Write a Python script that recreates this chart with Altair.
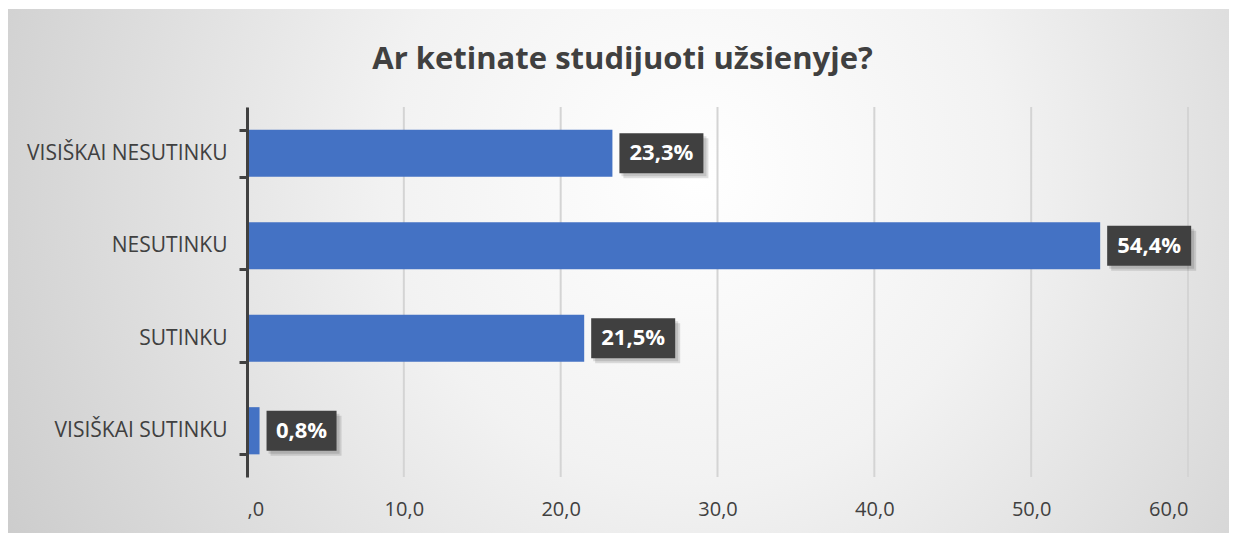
import altair as alt
import pandas as pd

categories = ["VISIŠKAI NESUTINKU", "NESUTINKU", "SUTINKU", "VISIŠKAI SUTINKU"]
values = [23.3, 54.4, 21.5, 0.8]
labels = ["23,3%", "54,4%", "21,5%", "0,8%"]
x_ticks = [0, 10, 20, 30, 40, 50, 60]

df = pd.DataFrame({"cat": categories, "value": values, "label": labels})
grid_df = pd.DataFrame({"t": x_ticks})

W, H = 941, 370
FONT = "Open Sans"
DARK = "#404040"

x_enc = alt.X(
    "value:Q",
    scale=alt.Scale(domain=[0, 60], nice=False, zero=True),
    axis=alt.Axis(
        values=x_ticks, title=None, domain=False, ticks=False, grid=False,
        labelExpr="datum.value == 0 ? ',0' : replace(format(datum.value, '.1f'), '.', ',')",
        labelFont=FONT, labelFontSize=20, labelColor=DARK, labelPadding=22,
        zindex=1,
    ),
)
y_enc = alt.Y(
    "cat:N", sort=categories,
    scale=alt.Scale(paddingInner=0.49, paddingOuter=0.245),
    axis=alt.Axis(
        title=None, tickBand="extent", domainColor=DARK, domainWidth=3,
        tickColor=DARK, tickWidth=3, tickSize=8, labelPadding=12,
        labelFont=FONT, labelFontSize=21, labelColor=DARK, grid=False,
        labelLimit=400, zindex=1,
    ),
)

bg = alt.Chart(pd.DataFrame({"k": [0]})).mark_rect(
    fill=alt.RadialGradient(
        gradient="radial", x1=0.56, y1=0.42, x2=0.56, y2=0.42, r1=0, r2=0.72,
        stops=[alt.GradientStop(color="#ffffff", offset=0),
               alt.GradientStop(color="#f2f2f2", offset=0.35),
               alt.GradientStop(color="#c4c4c4", offset=1)],
    ),
).encode(x=alt.value(-239), x2=alt.value(990), y=alt.value(-98), y2=alt.value(426))

grid = alt.Chart(grid_df).mark_rule(color="#d4d4d4", strokeWidth=2).encode(
    x=alt.X("t:Q"), y=alt.value(0), y2=alt.value(H)
)

bars = alt.Chart(df).mark_bar(color="#4472C4").encode(x=x_enc, y=y_enc)

long_df = alt.Chart(df).transform_filter("length(datum.label) == 5")
short_df = alt.Chart(df).transform_filter("length(datum.label) < 5")

def box_layers(base, w):
    sh1 = base.mark_bar(color="#000000", opacity=0.12, size=40, xOffset=9, x2Offset=7 + w + 3, yOffset=3).encode(
        x="value:Q", x2="value:Q", y=alt.Y("cat:N", sort=categories))
    sh2 = base.mark_bar(color="#000000", opacity=0.12, size=40, xOffset=11, x2Offset=7 + w + 5, yOffset=5).encode(
        x="value:Q", x2="value:Q", y=alt.Y("cat:N", sort=categories))
    box = base.mark_bar(color=DARK, size=40, xOffset=7, x2Offset=7 + w).encode(
        x="value:Q", x2="value:Q", y=alt.Y("cat:N", sort=categories))
    txt = base.mark_text(color="white", font=FONT, fontSize=22, fontWeight="bold",
                         align="center", baseline="middle", dx=7 + w / 2).encode(
        x="value:Q", y=alt.Y("cat:N", sort=categories), text="label:N")
    return [sh1, sh2, box, txt]

chart = alt.layer(
    bg, grid, bars, *box_layers(long_df, 84), *box_layers(short_df, 70)
).properties(
    width=W, height=H,
    autosize=alt.AutoSizeParams(type="none"),
    padding={"left": 239, "top": 99, "right": 41, "bottom": 56},
    title=alt.TitleParams(
        "Ar ketinate studijuoti užsienyje?", font=FONT, fontSize=31,
        fontWeight="bold", color=DARK, anchor="middle", frame="bounds", offset=-67,
    ),
).configure_view(stroke=None).configure(background="#ffffff")

chart.save("out.html", embed_options={"renderer": "svg", "actions": False})
